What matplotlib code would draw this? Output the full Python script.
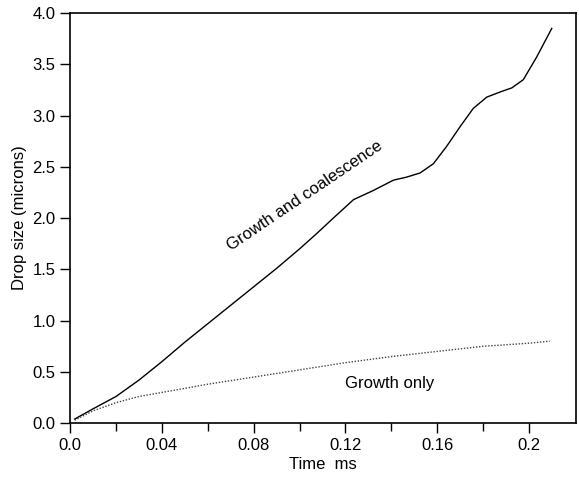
import matplotlib
matplotlib.use("Agg")
from matplotlib import pyplot as plt

# values
t_coal = [0.002, 0.01, 0.02, 0.03, 0.04, 0.05, 0.06, 0.07, 0.08, 0.09, 0.10, 0.1075,
          0.1147, 0.1235, 0.1322, 0.1409, 0.1467, 0.1525, 0.1583, 0.1641, 0.1699,
          0.1757, 0.1816, 0.1874, 0.1925, 0.1975, 0.2033, 0.2099]
d_coal = [0.04, 0.14, 0.26, 0.42, 0.60, 0.79, 0.97, 1.15, 1.33, 1.51, 1.70, 1.85,
          2.00, 2.18, 2.27, 2.37, 2.40, 2.44, 2.53, 2.70, 2.89,
          3.07, 3.18, 3.23, 3.27, 3.35, 3.57, 3.85]

t_grow = [0.002, 0.01, 0.02, 0.03, 0.04, 0.06, 0.08, 0.10, 0.12, 0.14, 0.16, 0.18, 0.20, 0.209]
d_grow = [0.03, 0.12, 0.20, 0.26, 0.30, 0.38, 0.45, 0.52, 0.59, 0.65, 0.70, 0.75, 0.78, 0.80]

x_ticks = [0.0, 0.04, 0.08, 0.12, 0.16, 0.2]
x_tick_labels = ["0.0", "0.04", "0.08", "0.12", "0.16", "0.2"]
x_minor = [0.02, 0.06, 0.10, 0.14, 0.18]
y_ticks = [0.0, 0.5, 1.0, 1.5, 2.0, 2.5, 3.0, 3.5, 4.0]

plt.rcParams['font.family'] = ['Liberation Sans', 'DejaVu Sans']

fig = plt.figure(figsize=(5.79, 4.82), dpi=100)
ax = fig.add_axes([0.121, 0.122, 0.874, 0.851])

ax.plot(t_coal, d_coal, color='black', linewidth=1.0, solid_joinstyle='round')
ax.plot(t_grow, d_grow, color='#444444', linewidth=1.0, linestyle=(0, (1, 1.2)))

# curve labels
ax.text(0.1024, 2.22, "Growth and coalescence", rotation=34, ha='center', va='center',
        fontsize=12, rotation_mode='anchor')
ax.text(0.1394, 0.39, "Growth only", ha='center', va='center', fontsize=12)

ax.set_xlim(0, 0.2205)
ax.set_ylim(0, 4.0)
ax.set_xticks(x_ticks)
ax.set_xticklabels(x_tick_labels)
ax.set_xticks(x_minor, minor=True)
ax.set_yticks(y_ticks)
ax.set_yticklabels(["%.1f" % v for v in y_ticks])
ax.tick_params(axis='both', which='major', direction='out', length=7, width=1.0,
               labelsize=12, top=False, right=False)
ax.tick_params(axis='x', which='minor', direction='out', length=6, width=1.0, top=False)
ax.set_xlabel("Time  ms", fontsize=12, labelpad=3)
ax.set_ylabel("Drop size (microns)", fontsize=12, labelpad=4)
for s in ax.spines.values():
    s.set_linewidth(1.2)

fig.savefig("out.png", dpi=100)
